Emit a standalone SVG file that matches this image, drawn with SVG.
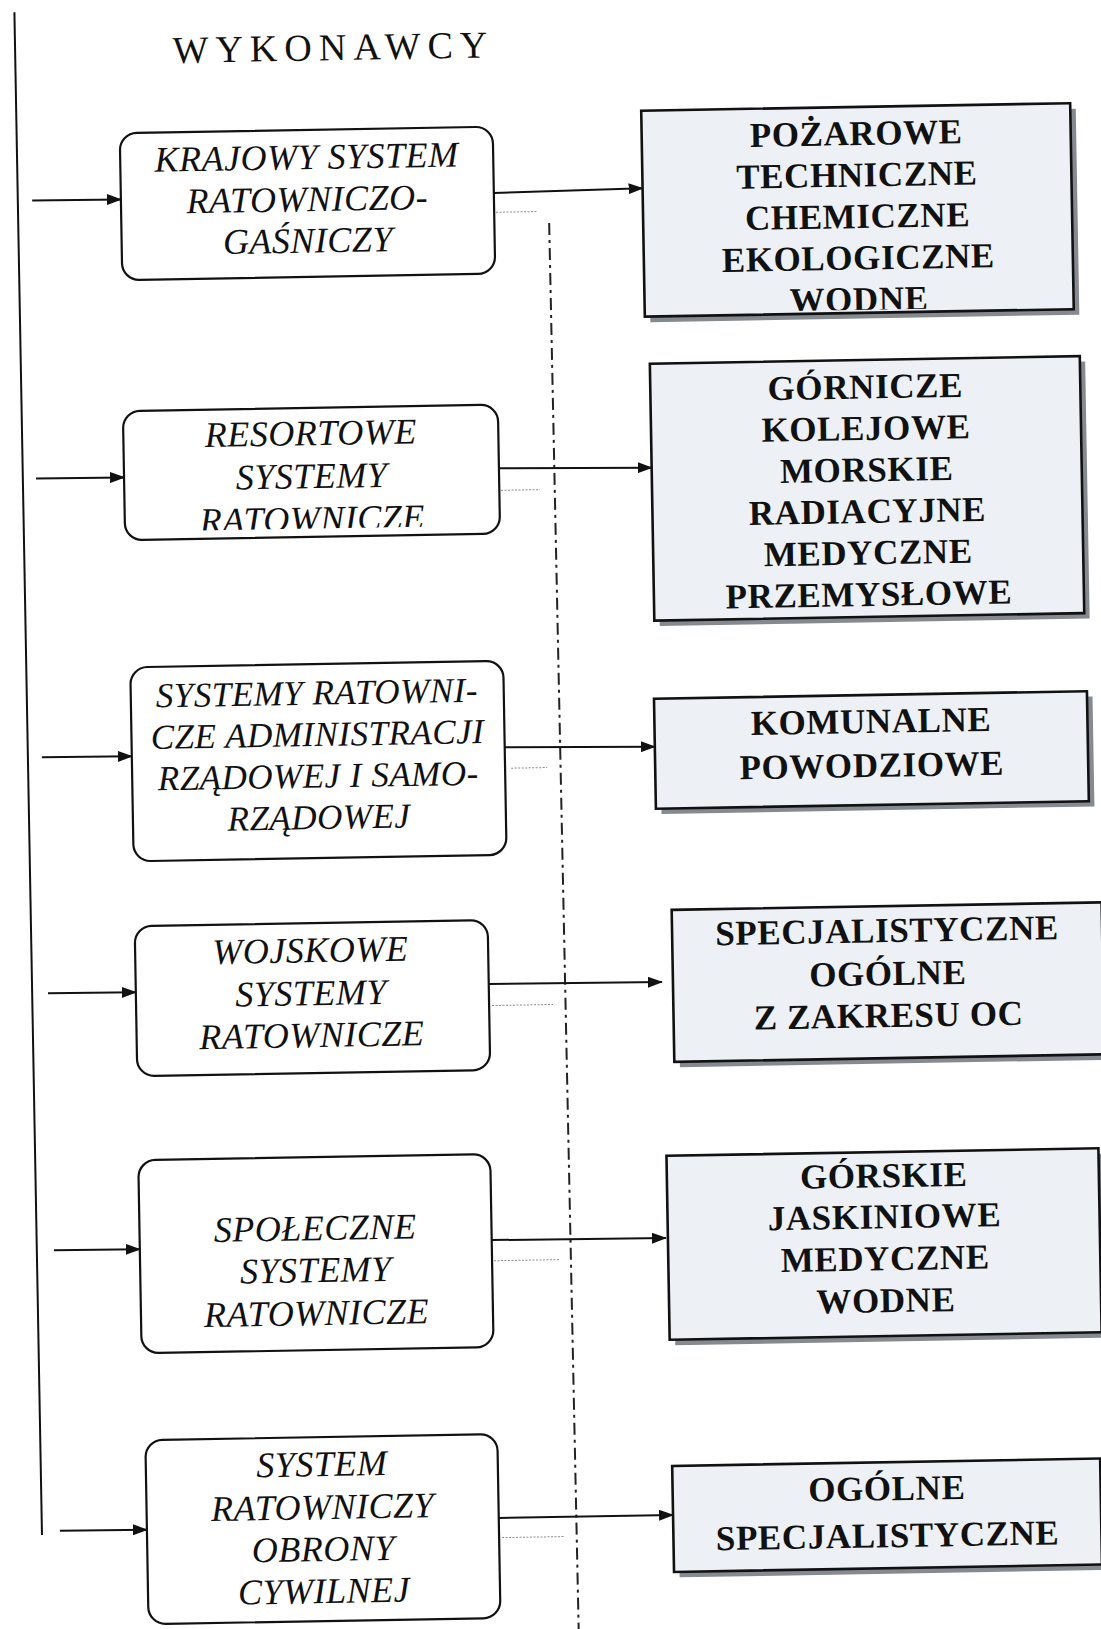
<svg xmlns="http://www.w3.org/2000/svg" width="1101" height="1629" viewBox="0 0 1101 1629">
  <style>
    .lbox { fill: #ffffff; stroke: #111; stroke-width: 2.2; }
    .rbox { fill: #edf1f6; stroke: #111; stroke-width: 2.6; }
    .shadow { fill: #858a91; }
    .it { font-family: "Liberation Serif", "Times New Roman", serif; font-style: italic; font-size: 36px; text-anchor: middle; fill: #111; letter-spacing: 0.5px; }
    .it.sm { font-size: 35px; }
    .bd { font-family: "Liberation Serif", "Times New Roman", serif; font-weight: bold; font-size: 35px; text-anchor: middle; fill: #111; letter-spacing: 0.6px; }
    .title { font-family: "Liberation Serif", "Times New Roman", serif; font-size: 38px; fill: #111; letter-spacing: 7px; }
    .conn { stroke: #111; stroke-width: 2; fill: none; }
    .arrow { stroke: #111; stroke-width: 2; fill: none; marker-end: url(#head); }
    .tick { stroke: #8a8a8a; stroke-width: 1; stroke-dasharray: 2 1.5; fill: none; }
    .axis { stroke: #222; stroke-width: 2; stroke-dasharray: 12 5 3 5; fill: none; }
  </style>
  <defs>
    <marker id="head" markerUnits="userSpaceOnUse" markerWidth="15" markerHeight="11" refX="14" refY="5.5" orient="auto">
      <path d="M0,0 L15,5.5 L0,11 Z" fill="#111"/>
    </marker>
    <!-- text areas of the boxes -->
    <clipPath id="c-b2"><rect x="134" y="407" width="367" height="117.5"/></clipPath>
    <clipPath id="c-r1"><rect x="656" y="115" width="424" height="200.4"/></clipPath>
  </defs>

  <rect width="1101" height="1629" fill="#ffffff"/>

  <g transform="rotate(-1 550 815)">
    <!-- heading -->
    <text class="title" x="186" y="56.5">WYKONAWCY</text>

    <!-- connectors -->
    <g id="connectors">
      <line class="conn" x1="28.5" y1="3" x2="29.5" y2="1526"/>
      <line class="axis" x1="559.5" y1="223" x2="564.5" y2="1645"/>

      <!-- inputs from the bracket line -->
      <line class="arrow" x1="43" y1="191.5" x2="131.7" y2="192"/>
      <line class="arrow" x1="42" y1="469.5" x2="130" y2="470"/>
      <line class="arrow" x1="43" y1="748.5" x2="132.9" y2="749"/>
      <line class="arrow" x1="45" y1="984.5" x2="132.8" y2="985"/>
      <line class="arrow" x1="46.5" y1="1241.5" x2="132.3" y2="1242"/>
      <line class="arrow" x1="47.5" y1="1522" x2="134.5" y2="1522.5"/>

      <!-- outputs to the right-hand boxes -->
      <line class="arrow" x1="504.7" y1="192" x2="653.5" y2="190"/>
      <line class="arrow" x1="505" y1="467.5" x2="657.7" y2="469.5"/>
      <line class="arrow" x1="505.9" y1="746.5" x2="656" y2="748.5"/>
      <line class="arrow" x1="485.8" y1="983" x2="659" y2="984"/>
      <line class="arrow" x1="484.3" y1="1239" x2="658.5" y2="1240"/>
      <line class="arrow" x1="486.5" y1="1517" x2="660.8" y2="1517"/>

      <!-- short dotted leaders -->
      <line class="tick" x1="506.5" y1="211.4" x2="547.5" y2="211.4"/>
      <line class="tick" x1="506.7" y1="489.5" x2="545.7" y2="489.5"/>
      <line class="tick" x1="512" y1="767.5" x2="548" y2="767.5"/>
      <line class="tick" x1="488.7" y1="1004.5" x2="549.7" y2="1004.5"/>
      <line class="tick" x1="486.2" y1="1259.7" x2="551.2" y2="1259.7"/>
      <line class="tick" x1="489.4" y1="1536.7" x2="552.4" y2="1536.7"/>
    </g>

    <!-- left column: rescue systems -->
    <g id="ksrg">
      <rect class="lbox" x="131.7" y="125.8" width="373" height="147" rx="17"/>
      <text class="it" x="318" y="165">KRAJOWY SYSTEM</text>
      <text class="it" x="318" y="207">RATOWNICZO-</text>
      <text class="it" x="318" y="248.5">GAŚNICZY</text>
    </g>
    <g id="resortowe">
      <rect class="lbox" x="130" y="403.8" width="375" height="129" rx="17"/>
      <g clip-path="url(#c-b2)">
        <text class="it" x="317.5" y="441">RESORTOWE</text>
        <text class="it" x="317.5" y="484">SYSTEMY</text>
        <text class="it" x="317.5" y="527">RATOWNICZE</text>
      </g>
    </g>
    <g id="administracja">
      <rect class="lbox" x="132.9" y="660" width="373" height="194" rx="17"/>
      <text class="it sm" x="319" y="700.5">SYSTEMY RATOWNI-</text>
      <text class="it sm" x="319" y="742">CZE ADMINISTRACJI</text>
      <text class="it sm" x="319" y="783.5">RZĄDOWEJ I SAMO-</text>
      <text class="it sm" x="319" y="825">RZĄDOWEJ</text>
    </g>
    <g id="wojskowe">
      <rect class="lbox" x="132.8" y="918.9" width="353" height="150" rx="17"/>
      <text class="it" x="308" y="958">WOJSKOWE</text>
      <text class="it" x="308" y="1001">SYSTEMY</text>
      <text class="it" x="308" y="1043">RATOWNICZE</text>
    </g>
    <g id="spoleczne">
      <rect class="lbox" x="132.3" y="1153" width="352" height="193" rx="17"/>
      <text class="it" x="308" y="1236">SPOŁECZNE</text>
      <text class="it" x="308" y="1278">SYSTEMY</text>
      <text class="it" x="308" y="1321">RATOWNICZE</text>
    </g>
    <g id="obrona-cywilna">
      <rect class="lbox" x="134.5" y="1433" width="352" height="184" rx="17"/>
      <text class="it" x="310.5" y="1472">SYSTEM</text>
      <text class="it" x="310.5" y="1515">RATOWNICZY</text>
      <text class="it" x="310.5" y="1557">OBRONY</text>
      <text class="it" x="310.5" y="1599">CYWILNEJ</text>
    </g>

    <!-- right column: kinds of rescue -->
    <g id="r-pozarowe">
      <rect class="shadow" x="659" y="118" width="429" height="206"/>
      <rect class="rbox" x="653.5" y="112.4" width="429" height="206"/>
      <g clip-path="url(#c-r1)">
        <text class="bd" x="868" y="150.5">POŻAROWE</text>
        <text class="bd" x="868" y="192">TECHNICZNE</text>
        <text class="bd" x="868" y="233.5">CHEMICZNE</text>
        <text class="bd" x="868" y="275">EKOLOGICZNE</text>
        <text class="bd" x="868" y="316.5">WODNE</text>
      </g>
    </g>
    <g id="r-gornicze">
      <rect class="shadow" x="663" y="371" width="430" height="257"/>
      <rect class="rbox" x="657.7" y="365.5" width="430" height="257"/>
      <text class="bd" x="872.7" y="404">GÓRNICZE</text>
      <text class="bd" x="872.7" y="445.5">KOLEJOWE</text>
      <text class="bd" x="872.7" y="487">MORSKIE</text>
      <text class="bd" x="872.7" y="528.5">RADIACYJNE</text>
      <text class="bd" x="872.7" y="570">MEDYCZNE</text>
      <text class="bd" x="872.7" y="611.5">PRZEMYSŁOWE</text>
    </g>
    <g id="r-komunalne">
      <rect class="shadow" x="661.5" y="706" width="433" height="110"/>
      <rect class="rbox" x="656" y="700.6" width="433" height="110"/>
      <text class="bd" x="872.6" y="738.6">KOMUNALNE</text>
      <text class="bd" x="872.6" y="782.6">POWODZIOWE</text>
    </g>
    <g id="r-specjalistyczne">
      <rect class="shadow" x="675.5" y="917.5" width="430" height="152"/>
      <rect class="rbox" x="670" y="912" width="430" height="152"/>
      <text class="bd" x="885" y="948">SPECJALISTYCZNE</text>
      <text class="bd" x="885" y="991">OGÓLNE</text>
      <text class="bd" x="885" y="1033">Z ZAKRESU OC</text>
    </g>
    <g id="r-gorskie">
      <rect class="shadow" x="666" y="1163.3" width="432" height="184"/>
      <rect class="rbox" x="660.5" y="1157.8" width="432" height="184"/>
      <text class="bd" x="877.4" y="1193">GÓRSKIE</text>
      <text class="bd" x="877.4" y="1234">JASKINIOWE</text>
      <text class="bd" x="877.4" y="1276">MEDYCZNE</text>
      <text class="bd" x="877.4" y="1318">WODNE</text>
    </g>
    <g id="r-ogolne">
      <rect class="shadow" x="666.3" y="1473.5" width="428" height="106"/>
      <rect class="rbox" x="660.8" y="1468" width="428" height="106"/>
      <text class="bd" x="875" y="1506">OGÓLNE</text>
      <text class="bd" x="875" y="1553">SPECJALISTYCZNE</text>
    </g>
  </g>
</svg>
